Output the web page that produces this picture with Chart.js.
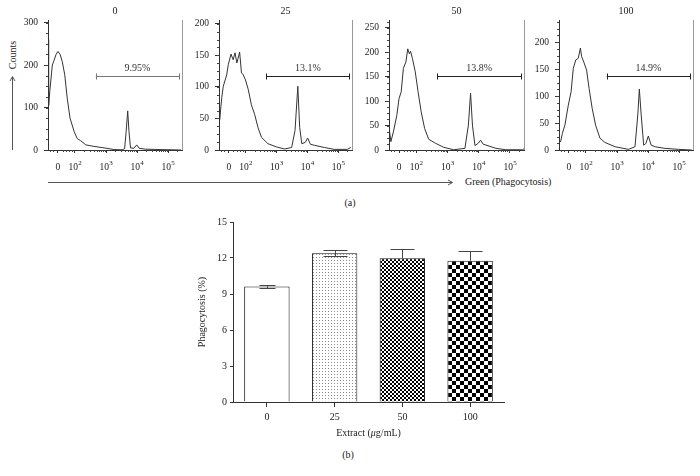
<!DOCTYPE html>
<html><head><meta charset="utf-8">
<script src="https://cdn.jsdelivr.net/npm/chart.js@4/dist/chart.umd.min.js"></script>
<style>
html,body{margin:0;padding:0;background:#fff;}
body{width:700px;height:476px;position:relative;overflow:hidden;font-family:"Liberation Serif",serif;color:#222;}
canvas{position:absolute;}
.t{position:absolute;font-size:10px;white-space:nowrap;line-height:1;transform:translate(-50%,-50%);}
svg{position:absolute;left:0;top:0;}
</style></head><body>
<svg width="700" height="476">
  <g stroke="#555" stroke-width="1" fill="none">
    <line x1="12.5" y1="150" x2="12.5" y2="77"/>
    <polyline points="10,81 12.5,76.5 15,81"/>
    <line x1="48" y1="182.5" x2="452" y2="182.5"/>
    <polyline points="448,180 452.5,182.5 448,185"/>
  </g>
</svg>
<div class="t" style="left:13px;top:55px;transform:translate(-50%,-50%) rotate(-90deg);">Counts</div>
<div class="t" style="left:465px;top:182px;transform:translate(0,-50%);">Green (Phagocytosis)</div>
<div class="t" style="left:350px;top:203px;">(a)</div>
<div class="t" style="left:348px;top:455px;">(b)</div>

<canvas id="h0" width="170" height="176" style="left:18px;top:0"></canvas>
<canvas id="h1" width="170" height="176" style="left:189px;top:0"></canvas>
<canvas id="h2" width="170" height="176" style="left:359px;top:0"></canvas>
<canvas id="h3" width="170" height="176" style="left:529px;top:0"></canvas>
<canvas id="bars" width="340" height="240" style="left:180px;top:205px"></canvas>

<script>
// ---------- DATA ----------
// Histogram x values are in decade units of the biexponential axis (2 = 10^2, 3 = 10^3 ...)
const panelTitles = ['0', '25', '50', '100'];
const gateLabels = ['9.95%', '13.1%', '13.8%', '14.9%'];
const gateRange = [2.67, 5.36];
const gateCounts = [175, 118, 151, 138];
const countMax = [306, 206, 266, 241];
const countStep = [100, 50, 50, 50];
const xTickValues = [1.45, 2, 3, 4, 5];
const xTickBases = ['0', '10', '10', '10', '10'];
const xTickExps = ['', '2', '3', '4', '5'];

const h0x = [1.13,1.15,1.19,1.27,1.32,1.39,1.45,1.52,1.59,1.67,1.75,1.84,1.97,2.07,2.18,2.35,2.61,2.94,3.26,3.52,3.60,3.65,3.70,3.74,3.79,3.90,3.99,4.07,4.26,4.74,5.42];
const h0y = [260,105,140,200,210,225,232,225,208,177,122,75,44,27,22,12,8.5,5,1,0.5,3,44,92,44,5,4,12,4,2,1,0];

const h1x = [1.13,1.15,1.22,1.27,1.38,1.43,1.52,1.59,1.65,1.71,1.80,1.86,1.91,1.99,2.08,2.18,2.29,2.40,2.51,2.72,2.99,3.26,3.49,3.60,3.69,3.75,3.82,3.93,4.01,4.10,4.23,4.55,4.87,5.30,5.41];
const h1y = [60,48,83,101,119,135,152,143,154,138,155,122,120,111,96,72,56,35,20,10,5,1.6,4,31,101,36,10,12,19,9,7.5,4,1,1,4];

const h2x = [1.13,1.19,1.27,1.38,1.45,1.52,1.59,1.67,1.73,1.78,1.82,1.88,1.97,2.06,2.16,2.27,2.40,2.61,2.88,3.20,3.56,3.67,3.74,3.80,3.88,3.99,4.06,4.14,4.33,4.55,4.87,5.41,5.45];
const h2y = [47,17,37,71,105,119,167,180,207,197,202,187,160,119,78,44,22,14,5.5,0.5,3.4,51,116,51,9,14,20,12,8,3.4,0.5,0.5,3];

const h3x = [1.13,1.18,1.24,1.32,1.43,1.52,1.59,1.67,1.75,1.82,1.86,1.93,2.02,2.10,2.20,2.31,2.45,2.61,2.94,3.37,3.58,3.67,3.72,3.78,3.86,3.93,4.01,4.10,4.23,4.55,4.98,5.41];
const h3y = [18.5,15,31,46,83,108,151,167,170,189,173,163,148,114,77,46,22,14,6,1.2,6,65,113,65,9,12,26,9,6,3,1.2,0];

const histX = [h0x, h1x, h2x, h3x];
const histY = [h0y, h1y, h2y, h3y];

const doseLabels = ['0', '25', '50', '100'];
const phagoMeans = [9.62, 12.39, 11.97, 11.78];
const phagoErrors = [0.15, 0.24, 0.80, 0.78];
const barTicks = [0, 3, 6, 9, 12, 15];

// ---------- STYLE ----------
Chart.defaults.font.family = '"Liberation Serif", "Times New Roman", serif';
Chart.defaults.font.size = 10;
Chart.defaults.color = '#222';
const plotWidths = [134, 133, 135, 134];
const gateColors = ['#777', '#222', '#222', '#222'];

const histPlugin = {
  id: 'histExtras',
  afterDraw(chart, args, o) {
    const {ctx, chartArea: {left, right, top, bottom}, scales: {x, y}} = chart;
    ctx.save();
    ctx.lineWidth = 1;
    ctx.strokeStyle = '#999';
    ctx.beginPath(); ctx.moveTo(Math.round(right) + 0.5, top); ctx.lineTo(Math.round(right) + 0.5, bottom); ctx.stroke();
    // minor ticks
    ctx.strokeStyle = '#444';
    ctx.beginPath();
    const minors = [1.2, 1.3, 1.6, 1.7, 1.8, 1.9];
    for (let k = 2; k <= 5; k++) for (let m = 2; m <= 9; m++) minors.push(k + Math.log10(m));
    minors.forEach(v => {
      if (v < x.min || v > x.max) return;
      const px = Math.round(x.getPixelForValue(v)) + 0.5;
      ctx.moveTo(px, bottom); ctx.lineTo(px, bottom + 2);
    });
    const ms = o.step / 4;
    for (let v = ms; v <= y.max; v += ms) {
      const py = Math.round(y.getPixelForValue(v)) + 0.5;
      ctx.moveTo(left, py); ctx.lineTo(left - 2, py);
    }
    ctx.stroke();
    // x tick labels with superscript exponents
    ctx.fillStyle = '#222';
    ctx.textBaseline = 'alphabetic';
    ctx.textAlign = 'left';
    const baseFont = '9.5px "Liberation Serif"', expFont = '7px "Liberation Serif"';
    xTickValues.forEach((v, k) => {
      const px = x.getPixelForValue(v);
      ctx.font = baseFont; const wb = ctx.measureText(xTickBases[k]).width;
      ctx.font = expFont; const we = xTickExps[k] ? ctx.measureText(xTickExps[k]).width : 0;
      const sx = px - (wb + we) / 2;
      ctx.font = baseFont; ctx.fillText(xTickBases[k], sx, bottom + 20);
      if (we) { ctx.font = expFont; ctx.fillText(xTickExps[k], sx + wb + 0.3, bottom + 15); }
    });
    // title
    ctx.font = '10px "Liberation Serif"';
    ctx.textAlign = 'center'; ctx.textBaseline = 'middle';
    ctx.fillText(o.title, (left + right) / 2, 11);
    // gate
    const g1 = x.getPixelForValue(o.gate[0]), g2 = x.getPixelForValue(o.gate[1]);
    const gy = Math.round(y.getPixelForValue(o.gateY)) + 0.5;
    ctx.strokeStyle = o.gateColor;
    ctx.beginPath();
    ctx.moveTo(g1, gy); ctx.lineTo(g2, gy);
    ctx.moveTo(Math.round(g1) + 0.5, gy - 3); ctx.lineTo(Math.round(g1) + 0.5, gy + 3);
    ctx.moveTo(Math.round(g2) + 0.5, gy - 3); ctx.lineTo(Math.round(g2) + 0.5, gy + 3);
    ctx.stroke();
    ctx.fillStyle = '#333';
    ctx.fillText(o.label, (g1 + g2) / 2, gy - 8);
    ctx.restore();
  }
};

for (let i = 0; i < 4; i++) {
  const pts = histX[i].map((v, j) => ({x: v, y: histY[i][j]}));
  new Chart(document.getElementById('h' + i), {
    type: 'line',
    data: {datasets: [{data: pts, borderColor: '#333', borderWidth: 1, pointRadius: 0, tension: 0, fill: false}]},
    options: {
      responsive: false, animation: false,
      layout: {padding: {top: 20, right: 170 - 30 - plotWidths[i], left: 0, bottom: 0}},
      plugins: {legend: {display: false}, tooltip: {enabled: false},
        histExtras: {title: panelTitles[i], label: gateLabels[i], gate: gateRange, gateY: gateCounts[i], gateColor: gateColors[i], step: countStep[i]}},
      scales: {
        x: {type: 'linear', min: 1.13, max: 5.45,
          afterBuildTicks: s => { s.ticks = xTickValues.map(v => ({value: v})); },
          afterFit: s => { s.height = 26; },
          ticks: {display: false},
          grid: {display: true, drawOnChartArea: false, drawTicks: true, tickLength: 3, color: '#333'},
          border: {display: true, color: '#333', width: 1}},
        y: {type: 'linear', min: 0, max: countMax[i],
          afterBuildTicks: s => { const t = []; for (let v = 0; v <= countMax[i]; v += countStep[i]) t.push({value: v}); s.ticks = t; },
          afterFit: s => { s.width = 30; },
          ticks: {font: {size: 9.5}, padding: 6},
          grid: {display: true, drawOnChartArea: false, drawTicks: true, tickLength: 4, color: '#333'},
          border: {display: true, color: '#333', width: 1}}
      }
    },
    plugins: [histPlugin]
  });
}

// ---------- BAR CHART ----------
function checker(cell) {
  const c = document.createElement('canvas'); c.width = c.height = cell * 2;
  const g = c.getContext('2d');
  g.fillStyle = '#fff'; g.fillRect(0, 0, cell * 2, cell * 2);
  g.fillStyle = '#000'; g.fillRect(0, 0, cell, cell); g.fillRect(cell, cell, cell, cell);
  return g.createPattern(c, 'repeat');
}
function dots() {
  const c = document.createElement('canvas'); c.width = c.height = 3;
  const g = c.getContext('2d');
  g.fillStyle = '#fff'; g.fillRect(0, 0, 3, 3);
  g.fillStyle = '#8a8a8a'; g.fillRect(1, 1, 1, 1);
  return g.createPattern(c, 'repeat');
}
const barCtx = document.getElementById('bars').getContext('2d');
const fills = ['#ffffff', dots(), checker(2), checker(4)];

const barPlugin = {
  id: 'barExtras',
  afterDatasetsDraw(chart, args, o) {
    const {ctx, chartArea: {left, right, top, bottom}, scales: {y}} = chart;
    const meta = chart.getDatasetMeta(0);
    ctx.save();
    ctx.strokeStyle = '#444'; ctx.lineWidth = 1;
    ctx.beginPath();
    meta.data.forEach((bar, i) => {
      const cx = Math.round(bar.x) + 0.5;
      const m = y.getPixelForValue(phagoMeans[i]);
      const t = Math.round(y.getPixelForValue(phagoMeans[i] + phagoErrors[i])) + 0.5;
      const b = Math.round(y.getPixelForValue(phagoMeans[i] - phagoErrors[i])) + 0.5;
      const hw = o.capHalf[i];
      ctx.moveTo(cx, m); ctx.lineTo(cx, t);
      ctx.moveTo(cx - hw, t); ctx.lineTo(cx + hw, t);
      if (o.down[i]) { ctx.moveTo(cx, m); ctx.lineTo(cx, b); ctx.moveTo(cx - hw, b); ctx.lineTo(cx + hw, b); }
    });
    ctx.stroke();
    ctx.fillStyle = '#222';
    ctx.font = '10px "Liberation Serif"';
    ctx.textBaseline = 'middle';
    // y title
    ctx.save();
    ctx.translate(22, (top + bottom) / 2);
    ctx.rotate(-Math.PI / 2);
    ctx.textAlign = 'center';
    ctx.fillText('Phagocytosis (%)', 0, 0);
    ctx.restore();
    // x title with italic mu
    const parts = [['Extract (', '10px "Liberation Serif"'], ['\u03BC', 'italic 10px "Liberation Serif"'], ['g/mL)', '10px "Liberation Serif"']];
    let w = 0;
    parts.forEach(p => { ctx.font = p[1]; w += ctx.measureText(p[0]).width; });
    let xx = (left + right) / 2 - w / 2;
    ctx.textAlign = 'left';
    parts.forEach(p => { ctx.font = p[1]; ctx.fillText(p[0], xx, 228); xx += ctx.measureText(p[0]).width; });
    ctx.restore();
  }
};

new Chart(barCtx, {
  type: 'bar',
  data: {labels: doseLabels, datasets: [{data: phagoMeans, backgroundColor: fills, borderColor: '#111', borderWidth: 1, borderSkipped: 'bottom', barPercentage: 0.67, categoryPercentage: 1}]},
  options: {
    responsive: false, animation: false,
    layout: {padding: {top: 17, right: 16, left: 0, bottom: 0}},
    plugins: {legend: {display: false}, tooltip: {enabled: false},
      barExtras: {capHalf: [8, 12, 12, 12], down: [true, true, false, false]}},
    scales: {
      x: {afterFit: s => { s.height = 43; },
        ticks: {padding: 4},
        grid: {display: true, offset: false, drawOnChartArea: false, drawTicks: true, tickLength: 5, color: '#333'},
        border: {display: true, color: '#333', width: 1}},
      y: {min: 0, max: 15,
        afterBuildTicks: s => { s.ticks = barTicks.map(v => ({value: v})); },
        afterFit: s => { s.width = 53; },
        ticks: {padding: 3},
        grid: {display: true, drawOnChartArea: false, drawTicks: true, tickLength: 3, color: '#333'},
        border: {display: true, color: '#333', width: 1}}
    }
  },
  plugins: [barPlugin]
});
</script>
</body></html>
